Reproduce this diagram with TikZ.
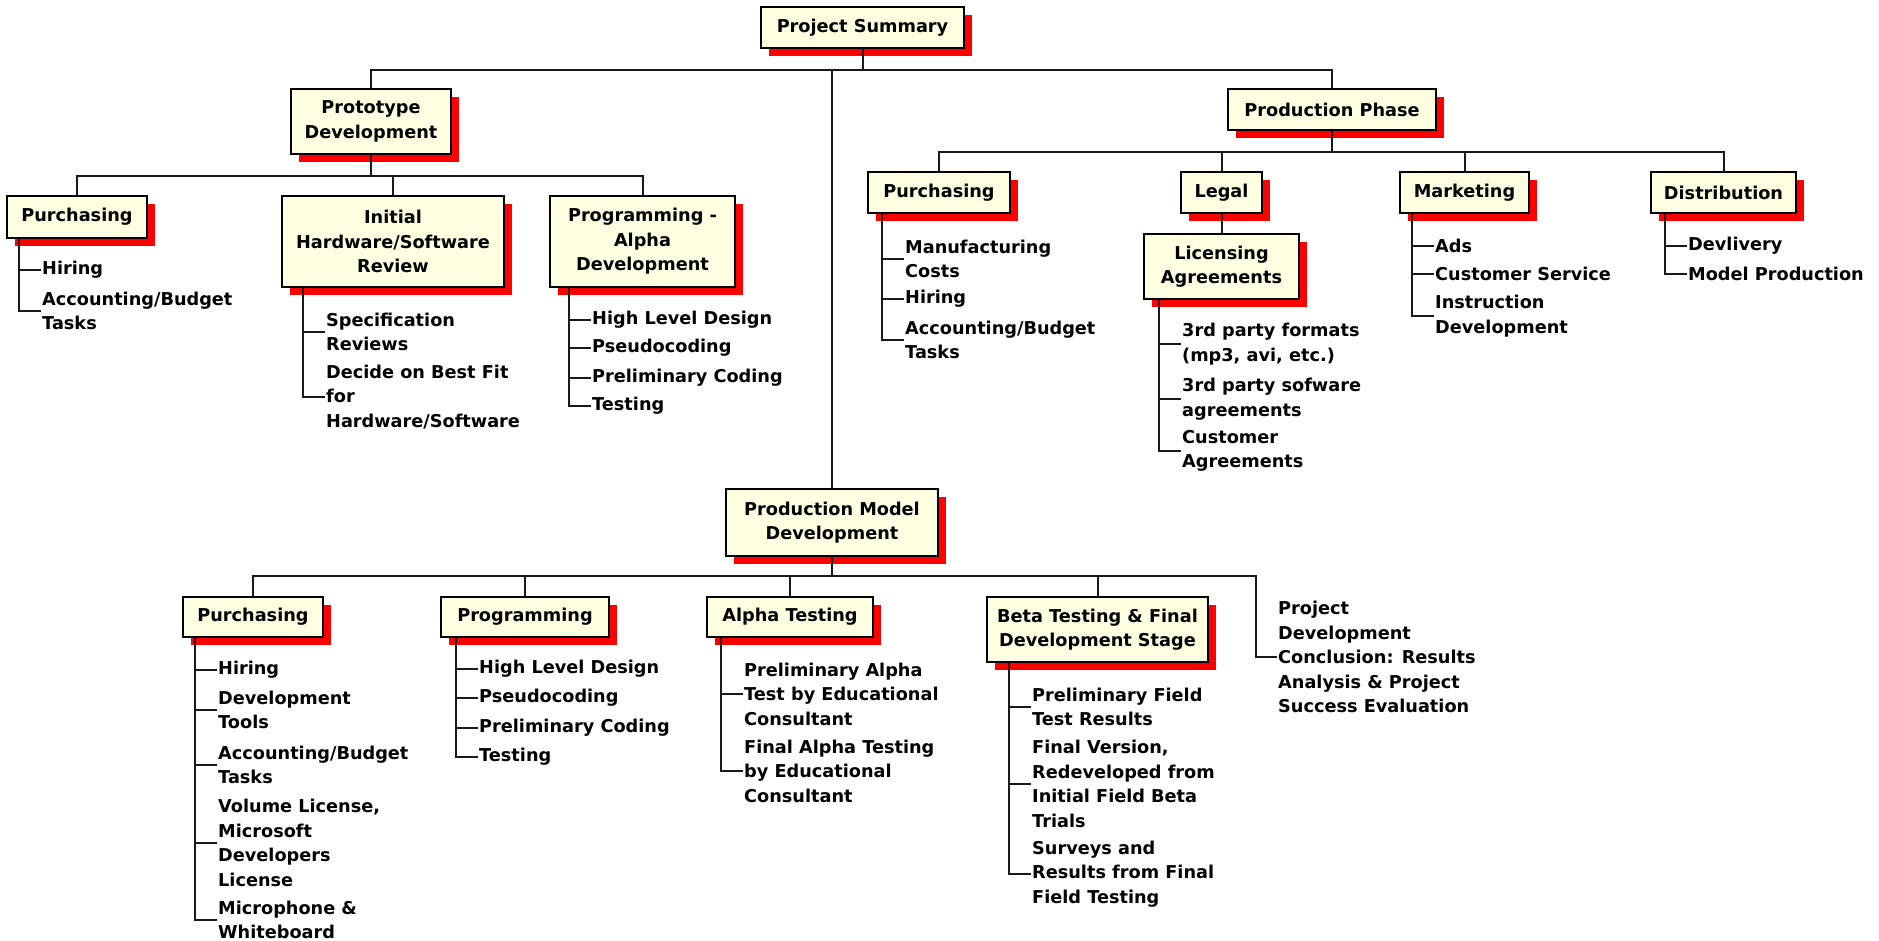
\documentclass[tikz,border=0pt]{standalone}
\usepackage{fontspec}
\setmainfont{DejaVu Sans}
\usetikzlibrary{calc,shadows}
\definecolor{cream}{RGB}{255,255,225}
\newcommand{\wbsfont}{\bfseries\fontsize{17.7}{24.5}\selectfont}
\tikzset{
  box/.style={draw, line width=2pt, fill=cream, align=center, inner sep=0pt,
              font=\wbsfont,
              drop shadow={fill=red, opacity=1, shadow xshift=8pt, shadow yshift=-8pt}},
  leaf/.style={anchor=west, align=left, inner sep=1pt, font=\wbsfont},
  link/.style={draw=black!90, line width=2pt},
}

\begin{document}
\begin{tikzpicture}[x=1pt, y=-1pt]
  \useasboundingbox (0,0) rectangle (1879,941);
  % top and second level
  \node[box, minimum width=203pt, minimum height=41pt] (ps) at (862.5,27.5) {Project Summary};
  \node[box, minimum width=160pt, minimum height=65pt] (pd) at (371,121.5) {Prototype\\Development};
  \node[box, minimum width=208pt, minimum height=41pt] (ph) at (1332,109.5) {Production Phase};
  \node[box, minimum width=212pt, minimum height=67pt] (pm) at (832,522.5) {Production Model\\Development};
  % prototype development
  \node[box, minimum width=140pt, minimum height=42pt] (pa) at (77,217) {Purchasing};
  \node[box, minimum width=222pt, minimum height=91pt] (ir) at (393,241.5) {Initial\\Hardware/Software\\Review};
  \node[box, minimum width=185pt, minimum height=91pt] (pg) at (642.5,241.5) {Programming -\\Alpha\\Development};
  % production phase
  \node[box, minimum width=142pt, minimum height=41pt] (mp) at (939,192.5) {Purchasing};
  \node[box, minimum width=81pt, minimum height=41pt] (lg) at (1221.5,192.5) {Legal};
  \node[box, minimum width=155pt, minimum height=65pt] (la) at (1221.5,266.5) {Licensing\\Agreements};
  \node[box, minimum width=129pt, minimum height=41pt] (mk) at (1464.5,192.5) {Marketing};
  \node[box, minimum width=145pt, minimum height=41pt] (ds) at (1723.5,192.5) {Distribution};
  % production model development
  \node[box, minimum width=140pt, minimum height=40pt] (mu) at (253,617) {Purchasing};
  \node[box, minimum width=168pt, minimum height=40pt] (mg) at (525,617) {Programming};
  \node[box, minimum width=166pt, minimum height=40pt] (at) at (790,617) {Alpha Testing};
  \node[box, minimum width=221pt, minimum height=65pt] (bt) at (1097.5,629.5) {Beta Testing \& Final\\Development Stage};
  \node[leaf] (cc) at (1277,657) {Project\\Development\\Conclusion: Results\\Analysis \& Project\\Success Evaluation};

  % leaves
  \node[leaf] (pa1) at (41,270) {Hiring};
  \node[leaf] (pa2) at (41,311) {Accounting/Budget\\Tasks};
  \node[leaf] (ir1) at (325,332) {Specification\\Reviews};
  \node[leaf] (ir2) at (325,397) {Decide on Best Fit\\for\\Hardware/Software};
  \node[leaf] (pg1) at (591,320) {High Level Design};
  \node[leaf] (pg2) at (591,348) {Pseudocoding};
  \node[leaf] (pg3) at (591,378) {Preliminary Coding};
  \node[leaf] (pg4) at (591,406) {Testing};
  \node[leaf] (mp1) at (904,259) {Manufacturing\\Costs};
  \node[leaf] (mp2) at (904,299) {Hiring};
  \node[leaf] (mp3) at (904,340) {Accounting/Budget\\Tasks};
  \node[leaf] (la1) at (1181,344) {3rd party formats\\(mp3, avi, etc.)};
  \node[leaf] (la2) at (1181,399) {3rd party sofware\\agreements};
  \node[leaf] (la3) at (1181,451) {Customer\\Agreements};
  \node[leaf] (mk1) at (1434,246) {Ads};
  \node[leaf] (mk2) at (1434,274) {Customer Service};
  \node[leaf] (mk3) at (1434,316) {Instruction\\Development};
  \node[leaf] (ds1) at (1687,246) {Devlivery};
  \node[leaf] (ds2) at (1687,274) {Model Production};
  \node[leaf] (mu1) at (217,670) {Hiring};
  \node[leaf] (mu2) at (217,710) {Development\\Tools};
  \node[leaf] (mu3) at (217,765) {Accounting/Budget\\Tasks};
  \node[leaf] (mu4) at (217,843) {Volume License,\\Microsoft\\Developers\\License};
  \node[leaf] (mu5) at (217,920) {Microphone \&\\Whiteboard};
  \node[leaf] (mg1) at (478,669) {High Level Design};
  \node[leaf] (mg2) at (478,698) {Pseudocoding};
  \node[leaf] (mg3) at (478,728) {Preliminary Coding};
  \node[leaf] (mg4) at (478,757) {Testing};
  \node[leaf] (at1) at (743,694) {Preliminary Alpha\\Test by Educational\\Consultant};
  \node[leaf] (at2) at (743,771) {Final Alpha Testing\\by Educational\\Consultant};
  \node[leaf] (bt1) at (1031,707) {Preliminary Field\\Test Results};
  \node[leaf] (bt2) at (1031,784) {Final Version,\\Redeveloped from\\Initial Field Beta\\Trials};
  \node[leaf] (bt3) at (1031,874) {Surveys and\\Results from Final\\Field Testing};

  % tree links
  \foreach \c in {pd,ph,pm} \draw[link] (ps.south) -- ++(0,21) -| (\c.north);
  \foreach \c in {pa,ir,pg} \draw[link] (pd.south) -- ++(0,21) -| (\c.north);
  \foreach \c in {mp,lg,mk,ds} \draw[link] (ph.south) -- ++(0,21) -| (\c.north);
  \foreach \c in {mu,mg,at,bt} \draw[link] (pm.south) -- ++(0,19) -| (\c.north);
  \draw[link] (lg.south) -- (la.north);
  \coordinate (ccj) at ($(cc.west)+(-21,0)$);
  \draw[link] (pm.south) -- ++(0,19) -| (ccj) -- (cc.west);

  % leaf spines
  \coordinate (pas) at ($(pa.south west)+(13,0)$);
  \coordinate (irs) at ($(ir.south west)+(22,0)$);
  \coordinate (pgs) at ($(pg.south west)+(20,0)$);
  \coordinate (mps) at ($(mp.south west)+(15,0)$);
  \coordinate (las) at ($(la.south west)+(16,0)$);
  \coordinate (mks) at ($(mk.south west)+(13,0)$);
  \coordinate (dss) at ($(ds.south west)+(15,0)$);
  \coordinate (mus) at ($(mu.south west)+(13,0)$);
  \coordinate (mgs) at ($(mg.south west)+(16,0)$);
  \coordinate (ats) at ($(at.south west)+(15,0)$);
  \coordinate (bts) at ($(bt.south west)+(23,0)$);
  \foreach \l in {pa1,pa2} \draw[link] (pas) |- (\l.west);
  \foreach \l in {ir1,ir2} \draw[link] (irs) |- (\l.west);
  \foreach \l in {pg1,pg2,pg3,pg4} \draw[link] (pgs) |- (\l.west);
  \foreach \l in {mp1,mp2,mp3} \draw[link] (mps) |- (\l.west);
  \foreach \l in {la1,la2,la3} \draw[link] (las) |- (\l.west);
  \foreach \l in {mk1,mk2,mk3} \draw[link] (mks) |- (\l.west);
  \foreach \l in {ds1,ds2} \draw[link] (dss) |- (\l.west);
  \foreach \l in {mu1,mu2,mu3,mu4,mu5} \draw[link] (mus) |- (\l.west);
  \foreach \l in {mg1,mg2,mg3,mg4} \draw[link] (mgs) |- (\l.west);
  \foreach \l in {at1,at2} \draw[link] (ats) |- (\l.west);
  \foreach \l in {bt1,bt2,bt3} \draw[link] (bts) |- (\l.west);
\end{tikzpicture}
\end{document}
